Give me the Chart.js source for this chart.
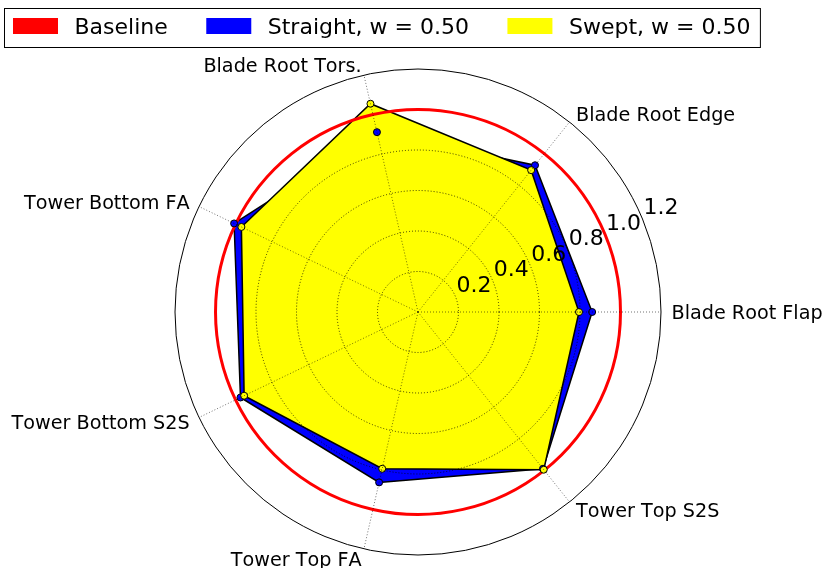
<!DOCTYPE html>
<html>
<head>
<meta charset="utf-8">
<title>Load ratios</title>
<script src="https://cdn.jsdelivr.net/npm/chart.js@4.4.1/dist/chart.umd.min.js"></script>
<style>
  html, body { margin: 0; padding: 0; background: #fff; }
  canvas { display: block; }
</style>
</head>
<body>
<canvas id="radar" width="825" height="568"></canvas>
<script>
// load channels, counter-clockwise starting at 3 o'clock
var channels = ['Blade Root Flap', 'Blade Root Edge', 'Blade Root Tors.', 'Tower Bottom FA',
                'Tower Bottom S2S', 'Tower Top FA', 'Tower Top S2S'];
var seriesNames = ['Baseline', 'Straight, w = 0.50', 'Swept, w = 0.50'];
var baseline = [1, 1, 1, 1, 1, 1, 1];
var straight = [0.86, 0.927, 0.911, 1.008, 0.973, 0.863, 0.99];
var swept = [0.795, 0.896, 1.055, 0.968, 0.953, 0.794, 0.996];
var rTicks = [0.2, 0.4, 0.6, 0.8, 1.0, 1.2];
var rTickLabels = ['0.2', '0.4', '0.6', '0.8', '1.0', '1.2'];

var FONT = "'DejaVu Sans', sans-serif";

// chart.js walks the spokes clockwise, this plot goes the other way round
function clockwise(a) {
    return [a[0]].concat(a.slice(1).reverse());
}

function near(a, b) {
    return Math.abs(a - b) < 1e-6;
}

// spoke names, radial tick labels and the framed legend
var annotations = {
    id: 'annotations',
    afterDraw: function (chart) {
        var r = chart.scales.r;
        var ctx = chart.ctx;
        ctx.save();
        ctx.fillStyle = '#000';
        ctx.textBaseline = 'alphabetic';
        if ('fontKerning' in ctx) ctx.fontKerning = 'none';

        ctx.font = '19.2px ' + FONT;
        chart.data.labels.forEach(function (text, i) {
            var p = r.getPointPosition(i, r.drawingArea + 10.5);
            var dx = p.x - r.xCenter;
            ctx.textAlign = dx > 1 ? 'left' : (dx < -1 ? 'right' : 'center');
            ctx.fillText(text, p.x, p.y + 7);
        });

        var a = 22.5 * Math.PI / 180;
        ctx.font = '22px ' + FONT;
        ctx.textAlign = 'left';
        rTicks.forEach(function (v, i) {
            var d = r.getDistanceFromCenterForValue(v);
            ctx.fillText(rTickLabels[i], r.xCenter + d * Math.cos(a) + 1, r.yCenter - d * Math.sin(a) - 5);
        });

        var x = 13;
        chart.data.datasets.slice(0, 3).forEach(function (ds) {
            ctx.fillStyle = ds.backgroundColor;
            ctx.fillRect(x, 18, 45, 16);
            ctx.fillStyle = '#000';
            ctx.fillText(ds.label, x + 61.5, 34);
            x += 61.5 + ctx.measureText(ds.label).width + 38.5;
        });
        ctx.strokeStyle = '#000';
        ctx.lineWidth = 1;
        ctx.strokeRect(4.5, 8.5, x - 38.5 + 10 - 4.5, 39);
        ctx.restore();
    }
};

function markers(data, color, order) {
    return {
        data: clockwise(data),
        showLine: false,
        fill: false,
        pointRadius: 3.5,
        pointBorderWidth: 1,
        pointBackgroundColor: color,
        pointBorderColor: '#000',
        order: order
    };
}

new Chart(document.getElementById('radar'), {
    type: 'radar',
    data: {
        labels: clockwise(channels),
        datasets: [{
            label: seriesNames[0],
            data: clockwise(baseline),
            borderColor: '#ff0000',
            backgroundColor: '#ff0000',
            borderWidth: 3,
            fill: false,
            pointRadius: 0,
            tension: 0.389,   // bezier handles that turn the 7 vertices into a circle
            order: 3
        }, {
            label: seriesNames[1],
            data: clockwise(straight),
            borderColor: '#000',
            backgroundColor: '#0000ff',
            borderWidth: 1.5,
            fill: 'origin',
            pointRadius: 0,
            order: 5
        }, {
            label: seriesNames[2],
            data: clockwise(swept),
            borderColor: '#000',
            backgroundColor: '#ffff00',
            borderWidth: 1.5,
            fill: 'origin',
            pointRadius: 0,
            order: 4
        },
        markers(straight, '#0000ff', 2),
        markers(swept, '#ffff00', 1)]
    },
    options: {
        responsive: false,
        animation: false,
        layout: { padding: { top: 69, bottom: 13, left: 11, right: 0 } },
        plugins: {
            legend: { display: false },
            tooltip: { enabled: false }
        },
        scales: {
            r: {
                min: 0,
                max: 1.2,
                startAngle: 90,
                ticks: { display: false, stepSize: 0.2 },
                pointLabels: { display: false },
                grid: {
                    circular: true,
                    z: 1,
                    lineWidth: 1,
                    color: function (c) {
                        var v = c.tick.value;
                        if (near(v, 1.2)) return '#000';
                        if (near(v, 1.0)) return 'rgba(0,0,0,0)';
                        return 'rgba(0,0,0,0.75)';
                    }
                },
                border: {
                    dash: function (c) {
                        return near(c.tick.value, 1.2) ? [] : [1, 2];
                    }
                },
                angleLines: {
                    color: 'rgba(0,0,0,0.55)',
                    lineWidth: 1,
                    borderDash: [1, 2]
                }
            }
        }
    },
    plugins: [annotations]
});
</script>
</body>
</html>
